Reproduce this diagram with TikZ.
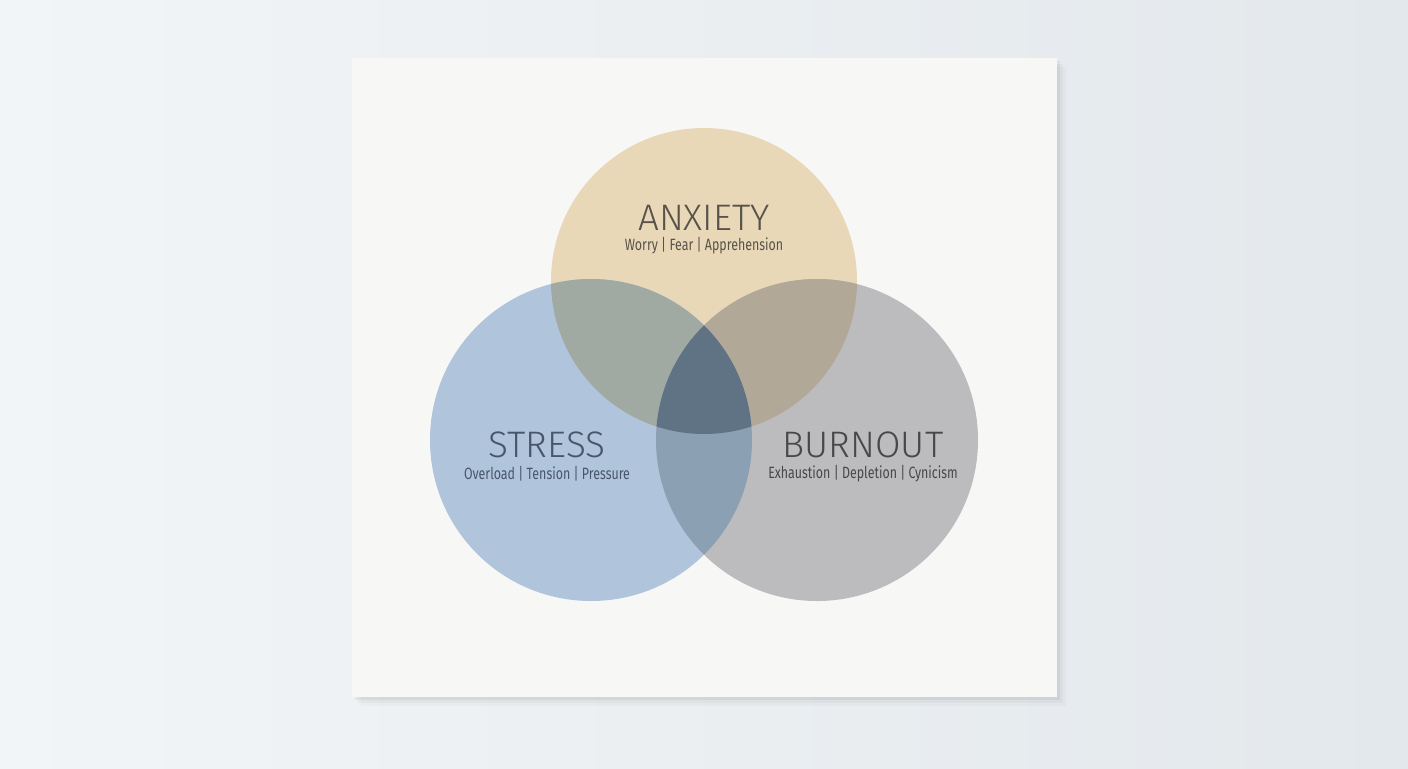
\documentclass[tikz,border=0pt]{standalone}
\usepackage{fontspec}
\setmainfont{Fira Sans}
\newfontfamily\thinfont{Fira Sans Light}
\newfontfamily\narrowfont{Fira Sans}[FakeStretch=0.76]

\definecolor{bgleft}{RGB}{242,245,247}
\definecolor{bgright}{RGB}{227,232,236}
\definecolor{cardfill}{RGB}{247,247,246}
\definecolor{anxfill}{RGB}{232,216,184}
\definecolor{strfill}{RGB}{176,196,220}
\definecolor{brnfill}{RGB}{188,188,190}
\definecolor{safill}{RGB}{160,170,162}
\definecolor{abfill}{RGB}{178,168,152}
\definecolor{sbfill}{RGB}{140,160,180}
\definecolor{midfill}{RGB}{95,115,132}
\definecolor{anxtext}{RGB}{88,82,74}
\definecolor{strtext}{RGB}{72,86,106}
\definecolor{brntext}{RGB}{72,72,74}

\begin{document}
\begin{tikzpicture}[x=0.02cm,y=-0.02cm,
    title/.style={font=\thinfont\fontsize{21}{21}\selectfont},
    subtitle/.style={font=\narrowfont\fontsize{9.3}{10}\selectfont}]
    \useasboundingbox (0,0) rectangle (1408,768);
    \shade[left color=bgleft, right color=bgright] (0,0) rectangle (1408,768);

    % card and its shadow
    \foreach \s/\o in {9/0.02,6/0.03,3/0.05}
        \fill[black,opacity=\o] (352+\s,58+\s) rectangle (1057+\s,697+\s);
    \fill[cardfill] (352,58) rectangle (1057,697);

    % circles
    \coordinate (A) at (704,281);
    \coordinate (S) at (591,440);
    \coordinate (B) at (817,440);
    \fill[anxfill] (A) circle[radius=153];
    \fill[strfill] (S) circle[radius=161];
    \fill[brnfill] (B) circle[radius=161];
    \begin{scope}
        \clip (A) circle[radius=153];
        \fill[abfill] (B) circle[radius=161];
    \end{scope}
    \begin{scope}
        \clip (S) circle[radius=161];
        \fill[safill] (A) circle[radius=153];
        \fill[sbfill] (B) circle[radius=161];
        \clip (A) circle[radius=153];
        \fill[midfill] (B) circle[radius=161];
    \end{scope}

    % labels
    \node[title,text=anxtext] (anxiety) at (704,218) {ANXIETY};
    \node[subtitle,text=anxtext] (anxietysub) at (704,246) {Worry | Fear | Apprehension};
    \node[title,text=strtext] (stress) at (547,445) {STRESS};
    \node[subtitle,text=strtext] (stresssub) at (547,474) {Overload | Tension | Pressure};
    \node[title,text=brntext] (burnout) at (863,445) {BURNOUT};
    \node[subtitle,text=brntext] (burnoutsub) at (863,474) {Exhaustion | Depletion | Cynicism};
\end{tikzpicture}
\end{document}
